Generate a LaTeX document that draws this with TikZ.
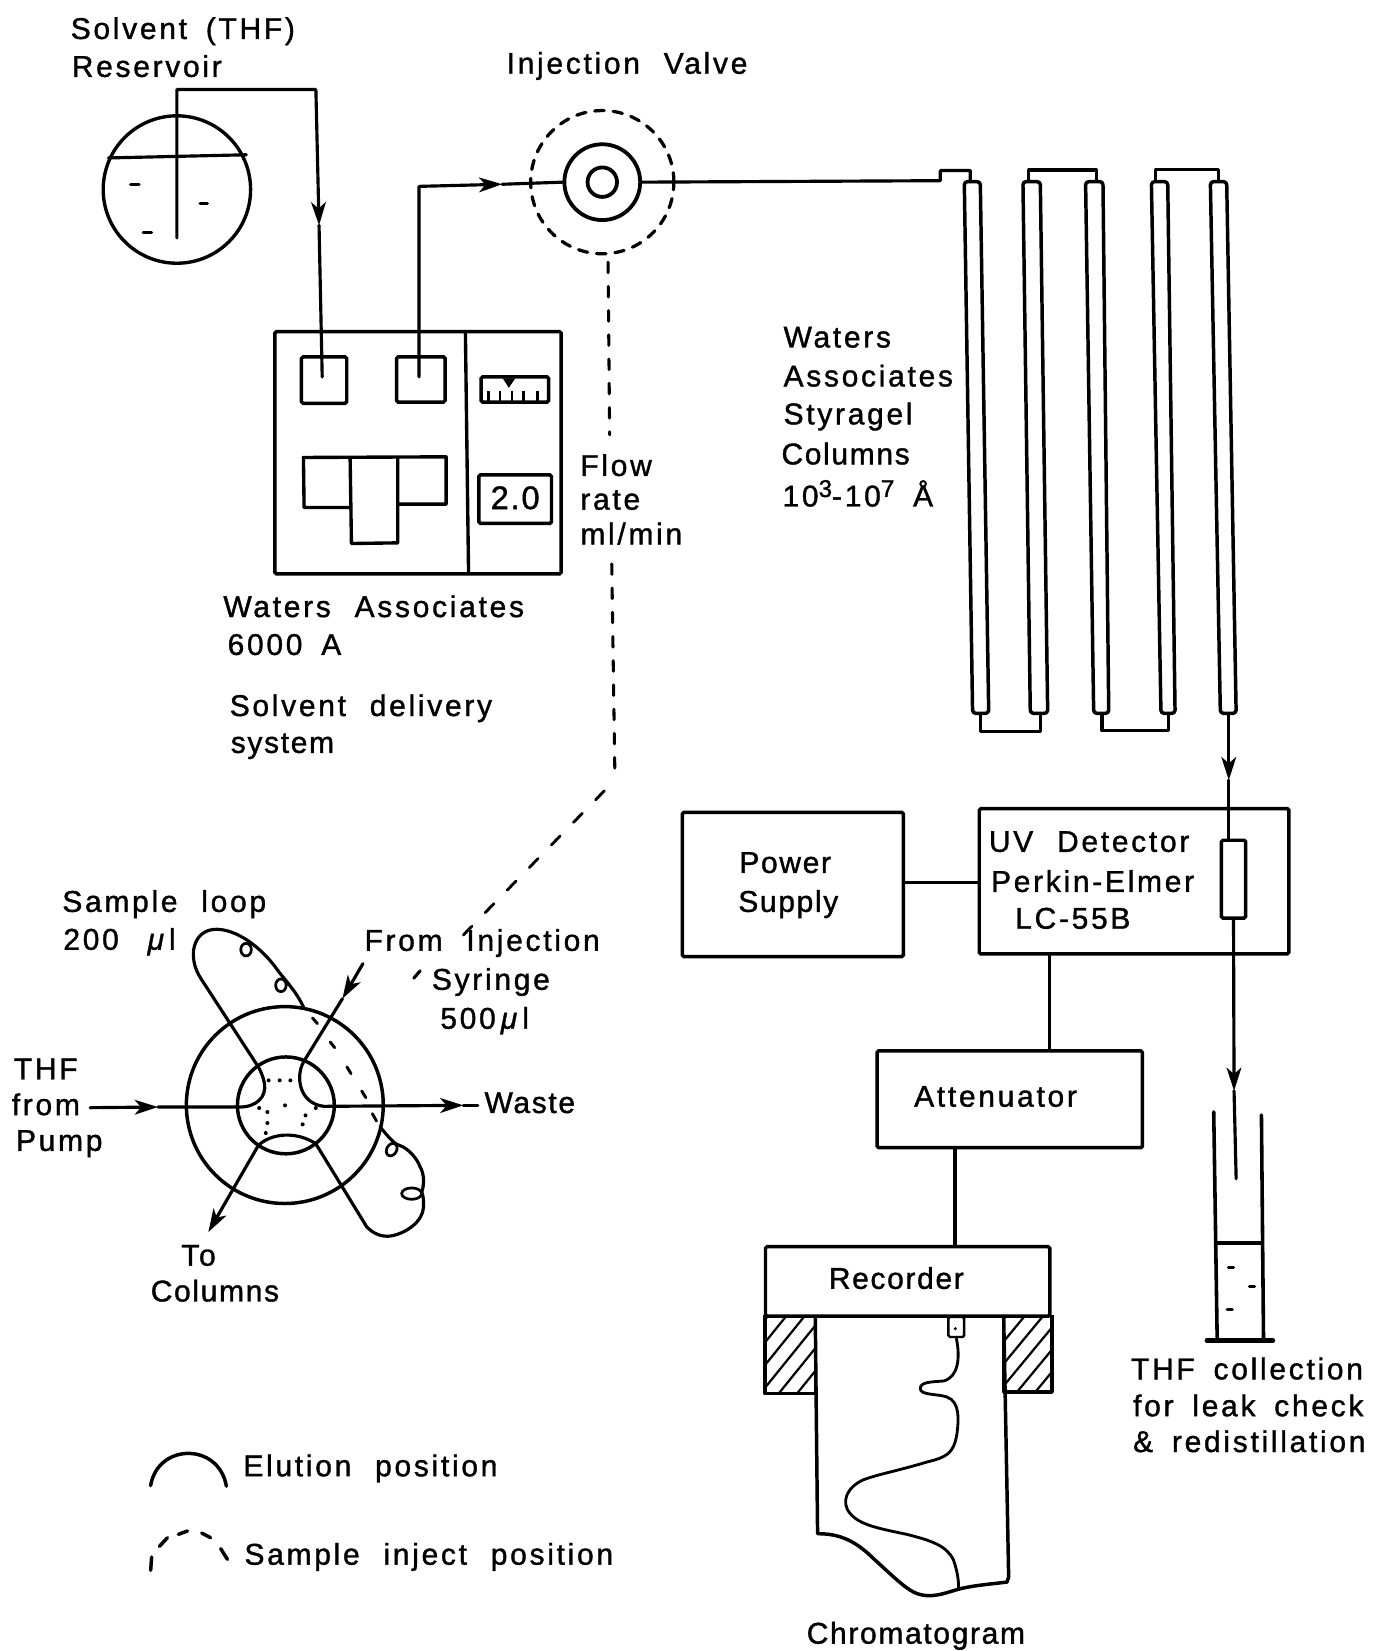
\documentclass[tikz,border=0pt]{standalone}
\usepackage{fontspec}
\usetikzlibrary{arrows.meta}
\newfontfamily\lblfam[LetterSpace=9,WordSpace=1.7,FakeBold=1.2]{Liberation Sans}
\newfontfamily\lblnar[LetterSpace=5.5,WordSpace=1.7,FakeBold=1.2]{Liberation Sans}
\newcommand{\lblfont}{\lblfam\fontsize{28.5}{30}\selectfont}
\newcommand{\narfont}{\lblnar\fontsize{28.5}{30}\selectfont}
\newcommand{\supr}[1]{\raisebox{9pt}{\fontsize{23}{25}\selectfont #1}}
\tikzset{
  ln/.style={line width=3pt,line cap=round,line join=round},
  boxn/.style={draw,line width=3.3pt,rounded corners=1.5pt,inner sep=0pt,fill=none},
  lbl/.style={anchor=base west,inner sep=0pt,font=\lblfont},
  nar/.style={anchor=base west,inner sep=0pt,font=\narfont},
  tip/.style={-{Stealth[length=22pt,width=14pt,inset=6pt]},ln},
  dashln/.style={line width=2.9pt,line cap=round,dash pattern=on 10pt off 13pt},
  dashdiag/.style={line width=2.7pt,line cap=round,dash pattern=on 12pt off 18pt},
  zone/.style={shift={(0pt,-807.5pt)},x=0.3895pt,y=-0.3167pt},
  ztwo/.style={shift={(703pt,-1168.4pt)},x=0.3167pt,y=-0.3167pt},
  zthree/.style={shift={(247pt,-304pt)},x=0.3167pt,y=-0.3167pt}
}
\begin{document}
\begin{tikzpicture}[x=1pt,y=-1pt]
\useasboundingbox (0,0) rectangle (1309,1568);
\fill[white] (0,0) rectangle (1309,1568);

% ---------- Labels
\node[lbl] (t1) at (67,37) {Solvent (THF)};
\node[lbl] (t2) at (68,73) {Reservoir};
\node[lbl] (t3) at (481,70) {Injection\, Valve};
\node[lbl] (t4) at (744,330) {Waters};
\node[lbl] (t5) at (744,367) {Associates};
\node[lbl] (t6) at (744,403) {Styragel};
\node[nar] (t7) at (742,441) {Columns};
\node[lbl] (t8) at (743,481) {10\supr{3}-10\supr{7} Å};
\node[lbl] (t9) at (551,452) {Flow};
\node[lbl] (t10) at (551,484) {rate};
\node[lbl] (t11) at (551,517) {ml/min};
\node[lbl] (t12) at (212,586) {Waters\, Associates};
\node[lbl] (t13) at (216,622) {6000 A};
\node[lbl] (t14) at (218,680) {Solvent\, delivery};
\node[nar] (t15) at (219,715) {system};
\node[nar] (t16) at (702,829) {Power};
\node[nar] (t17) at (701,866) {Supply};
\node[lbl] (t18) at (939,809) {UV\, Detector};
\node[lbl] (t19) at (941,847) {Perkin-Elmer};
\node[lbl] (t20) at (964,882) {LC-55B};
\node[lbl] (t21) at (868,1051) {Attenuator};
\node[nar] (t22) at (787,1224) {Recorder};
\node[nar] (t23) at (766,1561) {Chromatogram};
\node[lbl] (t24) at (1074,1310) {THF collection};
\node[lbl] (t25) at (1076,1345) {for leak check};
\node[lbl] (t26) at (1076,1379) {\& redistillation};
\node[lbl] (t27) at (59,866) {Sample\, loop};
\node[lbl] (t28) at (60,902) {200\,\, {\itshape μ}\,l};
\node[lbl] (t29) at (346,903) {From\, Injection};
\node[lbl] (t30) at (410,940) {Syringe};
\node[lbl] (t31) at (418,977) {500\,{\itshape μ}\,l};
\node[lbl] (t32) at (13,1025) {THF};
\node[lbl] (t33) at (11,1059) {from};
\node[lbl] (t34) at (15,1093) {Pump};
\node[nar] (t35) at (460,1057) {Waste};
\node[lbl] (t36) at (172,1202) {To};
\node[nar] (t37) at (143,1236) {Columns};
\node[lbl] (t38) at (231,1402) {Elution\, position};
\node[lbl] (t39) at (232,1486) {Sample\, inject\, position};

% ---------- Reservoir and valve
\node[circle,draw,line width=3.2pt,minimum size=140pt,inner sep=0pt] (res) at (168,180) {};
\draw[ln] (103,150) -- (234,147);
\foreach \a/\b/\c in {124/132/175,190/197/193,136/144/221}
  \draw[ln] (\a,\c) -- (\b,\c);
\node[circle,draw,line width=3.1pt,line cap=round,dash pattern=on 9pt off 8.5pt,minimum size=136pt,inner sep=0pt] (valve) at (572,173) {};
\node[circle,draw,line width=3.6pt,minimum size=72pt,inner sep=0pt] (rotor) at (572,173) {};
\node[circle,draw,line width=3.6pt,minimum size=28pt,inner sep=0pt] (core) at (572,173) {};

% ---------- Pump box
\node[boxn,minimum width=272pt,minimum height=230pt] (pump) at (397,430) {};
\draw[line width=3.2pt] (442,315) -- (445,545);
\begin{scope}[zthree]
  \node[boxn,minimum width=43pt,minimum height=44pt] (in1) at (192,180) {};
  \node[boxn,minimum width=46pt,minimum height=43pt] (in2) at (482,178) {};
  \draw[line width=3.2pt,line join=round] (270,562) -- (132,562) -- (130,412) -- (558,410) -- (558,552) -- (415,552);
  \draw[line width=3.2pt,line join=round] (270,412) -- (274,670) -- (413,668) -- (413,412);
  \node[boxn,minimum width=64pt,minimum height=24pt] (meter) at (764,208) {};
  \foreach \q in {685,720,755,790,832}
    \draw[line width=2pt] (\q,245) -- (\q,214);
  \fill (728,175) -- (765,175) -- (746,203) -- cycle;
  \node[boxn,minimum width=69pt,minimum height=46pt] (disp) at (765,537) {};
  \node[inner sep=0pt,font=\lblnar\fontsize{31}{33}\selectfont] (dval) at (765,533) {2.0};
\end{scope}

% ---------- Solvent lines
\coordinate (dip) at (168,226);
\coordinate (bend1) at (168,85);
\coordinate (bend2) at (300,85);
\coordinate (arr1) at (303,214);
\coordinate (end1) at (306,358);
\draw[tip] (dip) -- (bend1) -- (bend2) -- (arr1);
\draw[ln] (arr1) -- (end1);
\coordinate (end2) at (398,358);
\coordinate (bend3) at (398,177);
\coordinate (arr2) at (477,175);
\draw[tip] (end2) -- (bend3) -- (arr2);
\draw[ln] (arr2) -- (rotor.west);

% ---------- Columns
\foreach \n/\a/\b/\c/\d in {c1/915.8/931/923.7/939,c2/971.5/988/978.5/995,c3/1031/1047.5/1038.7/1053,c4/1093.5/1109/1102.6/1116,c5/1149.5/1165/1159/1174}{
  \draw[line width=3.3pt,line join=round,rounded corners=3pt] (\a,172.5) -- (\b,172.5) -- (\d,677.5) -- (\c,677.5) -- cycle;
}
\coordinate (j1) at (893,171.6);
\coordinate (j2) at (893,162);
\coordinate (j3) at (921.5,162);
\coordinate (j4) at (921.5,172.5);
\draw[ln] (rotor.east) -- (j1) -- (j2) -- (j3) -- (j4);
\coordinate (k1) at (977,172);
\coordinate (k2) at (977,161.5);
\coordinate (k3) at (1041,161.5);
\coordinate (k4) at (1041,172);
\draw[ln] (k1) -- (k2) -- (k3) -- (k4);
\coordinate (l1) at (1097,172);
\coordinate (l2) at (1097,161);
\coordinate (l3) at (1157.5,161);
\coordinate (l4) at (1157.5,172);
\draw[ln] (l1) -- (l2) -- (l3) -- (l4);
\coordinate (m1) at (931,678);
\coordinate (m2) at (931,695);
\coordinate (m3) at (988,695);
\coordinate (m4) at (988,678);
\draw[ln] (m1) -- (m2) -- (m3) -- (m4);
\coordinate (n1) at (1046.6,678);
\coordinate (n2) at (1046.6,694);
\coordinate (n3) at (1110,694);
\coordinate (n4) at (1110,678);
\draw[ln] (n1) -- (n2) -- (n3) -- (n4);

% ---------- Detector chain
\node[boxn,minimum width=210pt,minimum height=137pt] (power) at (753,840) {};
\node[boxn,minimum width=294pt,minimum height=138pt] (uv) at (1077,837) {};
\node[boxn,minimum width=252pt,minimum height=92pt] (atten) at (959,1044) {};
\node[boxn,minimum width=270pt,minimum height=66pt] (rec) at (862,1217) {};
\node[boxn,minimum width=23pt,minimum height=74pt] (cell) at (1171.5,835) {};
\draw[ln] (power.east |- 0,838) -- (uv.west |- 0,838);
\coordinate (uvx) at (997,0);
\draw[ln] (uvx |- uv.south) -- (uvx |- atten.north);
\coordinate (atx) at (907,0);
\draw[ln] (atx |- atten.south) -- (atx |- rec.north);
\coordinate (out1) at (1167,678);
\coordinate (out2) at (1167,741);
\draw[tip] (out1) -- (out2);
\draw[ln] (out2) -- (cell.north -| out2);
\coordinate (drop1) at (1172,1036);
\coordinate (drop2) at (1174,1119.5);
\draw[tip] (cell.south) -- (drop1);
\draw[ln] (drop1) -- (drop2);

% ---------- Collection tube
\coordinate (w1) at (1152.7,1056);
\coordinate (w2) at (1156,1273);
\coordinate (w3) at (1198,1059);
\coordinate (w4) at (1200,1273);
\coordinate (w5) at (1146,1273);
\coordinate (w6) at (1209,1273);
\draw[line width=3.4pt,line cap=round] (w1) -- (w2);
\draw[line width=3.4pt,line cap=round] (w3) -- (w4);
\draw[line width=4pt,line cap=round] (w5) -- (w6);
\draw[ln] (1155,1180.5) -- (1199,1180.5);
\foreach \px/\py in {1169/1204,1189/1222,1168/1244}
  \draw[line width=2.8pt,line cap=round] (\px-2.5,\py) -- (\px+2.5,\py);

% ---------- Dashed link
\coordinate (d0) at (577.5,249);
\coordinate (d0b) at (579,413);
\coordinate (d1a) at (581,535.5);
\coordinate (d1) at (584,737);
\coordinate (d1c) at (574,751);
\coordinate (d2) at (440,888);
\draw[dashln] (d0) -- (d0b);
\draw[dashln] (d1a) -- (d1);
\draw[dashdiag] (d1c) -- (d2);
\coordinate (d3) at (393,929);
\coordinate (d4) at (399,922);
\draw[ln] (d3) -- (d4);

% ---------- Injection valve detail
\node[circle,draw,line width=3.3pt,minimum size=187pt,inner sep=0pt] (big) at (270.5,1049.5) {};
\node[circle,draw,line width=3.3pt,minimum size=92pt,inner sep=0pt] (small) at (271.5,1049.8) {};
\begin{scope}[zone]
  \coordinate (a1) at (220,772);
  \coordinate (a2) at (385,770);
  \coordinate (a3) at (885,340);
  \coordinate (a4) at (835,445);
  \coordinate (a5) at (790,768);
  \coordinate (a6) at (1130,765);
  \coordinate (a7) at (1165,765);
  \coordinate (a8) at (630,885);
  \coordinate (a9) at (508,1145);
  \draw[tip] (a1) -- (a2);
  \draw[ln] (a2) -- (580,770) .. controls (625,772) and (650,740) .. (645,700) .. controls (642,680) and (635,660) .. (630,650)
     -- (490,385) .. controls (455,320) and (470,235) .. (530,237) .. controls (590,240) and (650,310) .. (680,365) .. controls (700,395) and (725,430) .. (740,470);
  \draw[tip] (a3) -- (a4);
  \draw[ln] (a4) -- (740,635) .. controls (720,680) and (730,760) .. (a5);
  \draw[tip] (a5) -- (a6);
  \draw[ln] (a6) -- (a7);
  \draw[tip] (a8) -- (a9);
  \coordinate (a10) at (770,880);
  \draw[ln] (a8) .. controls (660,850) and (720,840) .. (a10);
  \foreach \px/\py in {600/298,685/405}
    \draw[line width=2.6pt] (\px,\py) ellipse [x radius=5pt,y radius=6pt];
  \foreach \pa/\pb/\pc/\pd in {762/503/774/520, 805/575/816/592, 846/650/856/670, 882/722/892/742, 908/790/918/812}
    \draw[line width=2.8pt,line cap=round] (\pa,\pb) -- (\pc,\pd);
  \foreach \px/\py in {655/690,682/690,708/690,632/773,695/765,770/773,745/795,652/785,652/818,738/822,648/848}
    \fill (\px,\py) circle[radius=1.9pt];
\end{scope}
\draw[ln] (a10) -- (348.3,1165.2) .. controls (355,1172) and (362,1174.5) .. (370,1174)
   .. controls (385,1172) and (402,1160) .. (402.2,1146.2) .. controls (402.5,1140) and (402,1136) .. (400.6,1132)
   .. controls (403,1125) and (403,1115) .. (399,1108.2) .. controls (396,1100) and (388,1091) .. (380,1088)
   .. controls (376,1087) and (373,1085) .. (361,1070.2);
\draw[line width=2.6pt,rotate around={-30:(372,1091.8)}] (372,1091.8) ellipse [x radius=4.7pt,y radius=6.3pt];
\draw[line width=2.6pt] (391,1133.6) ellipse [x radius=9.5pt,y radius=5.4pt];

% ---------- Legend
\coordinate (e1) at (143,1411);
\coordinate (e2) at (215,1411.5);
\draw[line width=3.3pt,line cap=round] (e1) .. controls (150,1370) and (208,1370) .. (e2);
\foreach \pa/\pb/\pc/\pd in {144/1478.7/143.1/1491.4, 151.4/1468.6/159/1460.4, 169.4/1457.2/178/1454, 191.6/1456/200/1460.4, 209.6/1470.8/216/1481}
  \draw[line width=3.3pt,line cap=round] (\pa,\pb) -- (\pc,\pd);

% ---------- Recorder
\begin{scope}[ztwo]
  \foreach \xa/\xb/\ya/\yb in {75/225/255/490,790/935/255/485}{
    \begin{scope}
      \clip (\xa,\ya) rectangle (\xb,\yb);
      \foreach \s in {-400,-345,...,300}
        \draw[line width=2.1pt] (\xa+\s,\yb) -- (\xa+\s+190,\ya);
    \end{scope}
    \draw[line width=3.3pt,line join=round] (\xa,\ya) -- (\xa,\yb) -- (\xb,\yb) -- (\xb,\ya);
  }
  \coordinate (p1) at (225,255);
  \coordinate (p2) at (790,255);
  \draw[line width=3.3pt,line join=round] (p1) -- (232,910) .. controls (290,910) and (340,925) .. (400,985)
    .. controls (450,1030) and (490,1070) .. (520,1085) .. controls (570,1110) and (620,1085) .. (660,1075)
    .. controls (700,1065) and (760,1060) .. (800,1055) -- (805,1040) -- (p2);
  \node[boxn,line width=2.3pt,minimum width=15pt,minimum height=19pt] (pen) at (648,290) {};
  \fill (645,295) circle[radius=1.6pt];
  \coordinate (tr) at (655,1075);
  \draw[line width=2.7pt] (pen.south) .. controls (660,380) and (655,440) .. (610,452)
    .. controls (570,455) and (540,455) .. (540,475) .. controls (540,495) and (590,490) .. (620,500)
    .. controls (660,515) and (655,570) .. (650,610) .. controls (640,670) and (620,680) .. (560,695)
    .. controls (470,722) and (420,730) .. (370,748) .. controls (320,770) and (300,815) .. (330,850)
    .. controls (360,885) and (420,895) .. (500,912) .. controls (570,930) and (620,945) .. (640,990)
    .. controls (650,1020) and (655,1045) .. (tr);
\end{scope}
\end{tikzpicture}
\end{document}
